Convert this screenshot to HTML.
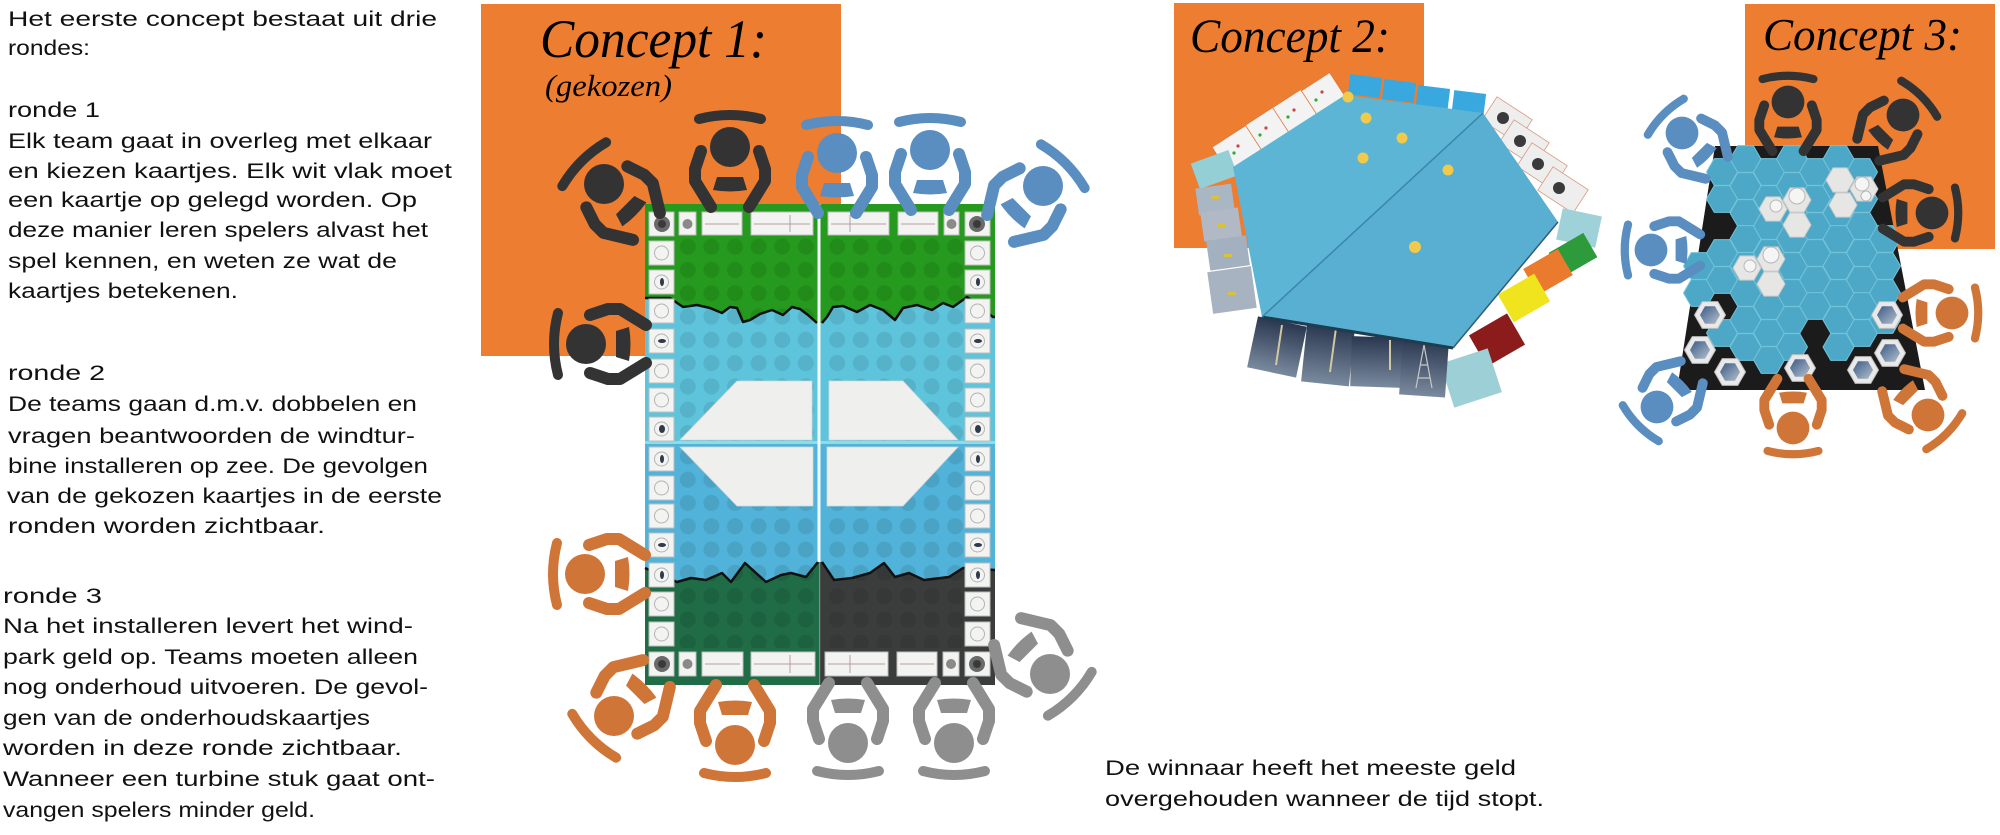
<!DOCTYPE html>
<html>
<head>
<meta charset="utf-8">
<style>
html,body{margin:0;padding:0;background:#fff;}
svg{display:block;}
.hw{font-family:"Liberation Sans",sans-serif;font-size:21px;fill:#111;}
.tt{font-family:"Liberation Serif",serif;font-style:italic;fill:#000;}
</style>
</head>
<body>
<svg width="2000" height="835" viewBox="0 0 2000 835" xmlns="http://www.w3.org/2000/svg">
<defs>
  <g id="P">
    <path d="M-19,-60 L-35,-34 L-35,-22 L-29,-4" fill="none" stroke="currentColor" stroke-width="12" stroke-linecap="round" stroke-linejoin="round"/>
    <path d="M19,-60 L35,-34 L35,-22 L29,-4" fill="none" stroke="currentColor" stroke-width="12" stroke-linecap="round" stroke-linejoin="round"/>
    <path d="M-17,-43 Q0,-46 17,-43 L13,-30 L-13,-30 Z" fill="currentColor"/>
    <circle r="20" fill="currentColor"/>
    <path d="M-31,28 Q0,36 31,28" fill="none" stroke="currentColor" stroke-width="10" stroke-linecap="round"/>
  </g>
  <pattern id="dotsL" x="676" y="235" width="23.6" height="23.3" patternUnits="userSpaceOnUse">
    <circle cx="11.8" cy="11.65" r="8" fill="#000" fill-opacity="0.09"/>
  </pattern>
  <pattern id="dotsR" x="825.4" y="235" width="23.6" height="23.3" patternUnits="userSpaceOnUse">
    <circle cx="11.8" cy="11.65" r="8" fill="#000" fill-opacity="0.09"/>
  </pattern>
  <polygon id="hx" points="15.5,0 7.75,13.4 -7.75,13.4 -15.5,0 -7.75,-13.4 7.75,-13.4"/>
  <polygon id="hw" points="14,0 7,12.1 -7,12.1 -14,0 -7,-12.1 7,-12.1"/>
  <polygon id="hi" points="10,0 5,8.7 -5,8.7 -10,0 -5,-8.7 5,-8.7"/>
  <linearGradient id="ph" x1="0" y1="0" x2="0" y2="1">
    <stop offset="0" stop-color="#2a3750"/>
    <stop offset="1" stop-color="#7a8a9e"/>
  </linearGradient>
  <linearGradient id="ph2" x1="0" y1="0" x2="1" y2="1">
    <stop offset="0" stop-color="#3b5a86"/>
    <stop offset="1" stop-color="#b3bfcc"/>
  </linearGradient>
</defs>

<!-- ORANGE BOXES -->
<rect x="481" y="4" width="360" height="352" fill="#ED7D31"/>
<rect x="1174" y="3" width="250" height="245" fill="#ED7D31"/>
<rect x="1745" y="4" width="250" height="245" fill="#ED7D31"/>

<!-- TITLES -->
<text class="tt" x="540" y="57" font-size="54" textLength="227" lengthAdjust="spacingAndGlyphs">Concept 1:</text>
<text class="tt" x="545" y="96" font-size="31" textLength="127" lengthAdjust="spacingAndGlyphs">(gekozen)</text>
<text class="tt" x="1190" y="52" font-size="48" textLength="200" lengthAdjust="spacingAndGlyphs">Concept 2:</text>
<text class="tt" x="1763" y="50" font-size="46" textLength="199" lengthAdjust="spacingAndGlyphs">Concept 3:</text>

<!-- LEFT TEXT -->
<g class="hw">
<text x="8" y="26" textLength="429" lengthAdjust="spacingAndGlyphs">Het eerste concept bestaat uit drie</text>
<text x="8" y="55" textLength="82" lengthAdjust="spacingAndGlyphs">rondes:</text>

<text x="8" y="117" textLength="92" lengthAdjust="spacingAndGlyphs">ronde 1</text>
<text x="8" y="148" textLength="424" lengthAdjust="spacingAndGlyphs">Elk team gaat in overleg met elkaar</text>
<text x="8" y="178" textLength="444" lengthAdjust="spacingAndGlyphs">en kiezen kaartjes. Elk wit vlak moet</text>
<text x="8" y="207" textLength="409" lengthAdjust="spacingAndGlyphs">een kaartje op gelegd worden. Op</text>
<text x="8" y="237" textLength="420" lengthAdjust="spacingAndGlyphs">deze manier leren spelers alvast het</text>
<text x="8" y="268" textLength="389" lengthAdjust="spacingAndGlyphs">spel kennen, en weten ze wat de</text>
<text x="8" y="298" textLength="230" lengthAdjust="spacingAndGlyphs">kaartjes betekenen.</text>

<text x="8" y="380" textLength="97" lengthAdjust="spacingAndGlyphs">ronde 2</text>
<text x="8" y="411" textLength="409" lengthAdjust="spacingAndGlyphs">De teams gaan d.m.v. dobbelen en</text>
<text x="8" y="443" textLength="407" lengthAdjust="spacingAndGlyphs">vragen beantwoorden de windtur-</text>
<text x="8" y="473" textLength="420" lengthAdjust="spacingAndGlyphs">bine installeren op zee. De gevolgen</text>
<text x="7" y="503" textLength="435" lengthAdjust="spacingAndGlyphs">van de gekozen kaartjes in de eerste</text>
<text x="8" y="533" textLength="317" lengthAdjust="spacingAndGlyphs">ronden worden zichtbaar.</text>

<text x="3" y="603" textLength="99" lengthAdjust="spacingAndGlyphs">ronde 3</text>
<text x="3" y="633" textLength="410" lengthAdjust="spacingAndGlyphs">Na het installeren levert het wind-</text>
<text x="3" y="664" textLength="415" lengthAdjust="spacingAndGlyphs">park geld op. Teams moeten alleen</text>
<text x="3" y="694" textLength="425" lengthAdjust="spacingAndGlyphs">nog onderhoud uitvoeren. De gevol-</text>
<text x="3" y="725" textLength="367" lengthAdjust="spacingAndGlyphs">gen van de onderhoudskaartjes</text>
<text x="3" y="755" textLength="399" lengthAdjust="spacingAndGlyphs">worden in deze ronde zichtbaar.</text>
<text x="3" y="786" textLength="432" lengthAdjust="spacingAndGlyphs">Wanneer een turbine stuk gaat ont-</text>
<text x="3" y="817" textLength="312" lengthAdjust="spacingAndGlyphs">vangen spelers minder geld.</text>

<text x="1105" y="775" textLength="411" lengthAdjust="spacingAndGlyphs">De winnaar heeft het meeste geld</text>
<text x="1105" y="806" textLength="439" lengthAdjust="spacingAndGlyphs">overgehouden wanneer de tijd stopt.</text>
</g>

<!-- ============ CONCEPT 1 BOARD ============ -->
<rect x="645" y="204" width="350" height="481" fill="#5ec4dc"/>
<rect x="645" y="443" width="350" height="140" fill="#51b3d9"/>
<path d="M645,204 H995 V317 L993,317 L967,297 L953,307 L943,303 L932,310 L917,305 L903,308 L895,320 L883,310 L870,305 L857,312 L843,306 L833,307 L827,317 L822,323 L817,323 L808,315 L800,309 L792,307 L783,315 L772,310 L760,314 L750,320 L743,322 L737,308 L730,307 L722,313 L710,308 L697,305 L683,307 L670,298 L645,298 Z" fill="#259a1e"/>
<path d="M645,568 L677,582 L691,578 L706,580 L722,573 L731,582 L745,563 L756,573 L766,582 L781,575 L791,573 L806,577 L818,562 L820,562 V685 H645 Z" fill="#1f6c46"/>
<path d="M820,562 L822,562 L834,580 L852,578 L870,573 L884,563 L895,577 L909,573 L924,580 L949,577 L963,568 L995,570 V685 H820 Z" fill="#3b3d3d"/>
<rect x="676" y="236" width="142" height="412" fill="url(#dotsL)"/>
<rect x="825" y="236" width="140" height="412" fill="url(#dotsR)"/>
<polyline points="645,298 670,298 683,307 697,305 710,308 722,313 730,307 737,308 743,322 750,320 760,314 772,310 783,315 792,307 800,309 808,315 817,323" fill="none" stroke="#111" stroke-width="2.5" stroke-linejoin="round"/>
<polyline points="822,323 827,317 833,307 843,306 857,312 870,305 883,310 895,320 903,308 917,305 932,310 943,303 953,307 967,297 993,317 995,317" fill="none" stroke="#111" stroke-width="2.5" stroke-linejoin="round"/>
<polyline points="645,568 677,582 691,578 706,580 722,573 731,582 745,563 756,573 766,582 781,575 791,573 806,577 818,562" fill="none" stroke="#111" stroke-width="2.5" stroke-linejoin="round"/>
<polyline points="822,562 834,580 852,578 870,573 884,563 895,577 909,573 924,580 949,577 963,568 995,570" fill="none" stroke="#111" stroke-width="2.5" stroke-linejoin="round"/>
<rect x="645" y="441" width="350" height="3" fill="#8fdce6"/>
<rect x="817.5" y="204" width="3" height="358" fill="#f4fbfc"/>
<rect x="819" y="562" width="1.2" height="123" fill="#8a8a8a"/>

<!-- white shapes -->
<g fill="#efefed" stroke="#d6d6d4" stroke-width="0.8">
<polygon points="737,381 812,381 812,440 680,440"/>
<polygon points="829,381 903,381 958,440 829,440"/>
<polygon points="680,447 813,447 813,506 737,506"/>
<polygon points="827,447 958,447 903,506 827,506"/>
</g>

<!-- cards -->
<g fill="#f3f3f1" stroke="#bdbdbd" stroke-width="1">
<rect x="649" y="212" width="25" height="24"/><rect x="649" y="241" width="25" height="24"/><rect x="649" y="270" width="25" height="24"/><rect x="649" y="299" width="25" height="24"/><rect x="649" y="329" width="25" height="24"/><rect x="649" y="359" width="25" height="24"/><rect x="649" y="388" width="25" height="24"/><rect x="649" y="417" width="25" height="24"/><rect x="649" y="447" width="25" height="24"/><rect x="649" y="476" width="25" height="24"/><rect x="649" y="504" width="25" height="24"/><rect x="649" y="533" width="25" height="24"/><rect x="649" y="563" width="25" height="24"/><rect x="649" y="592" width="25" height="24"/><rect x="649" y="622" width="25" height="24"/><rect x="649" y="652" width="25" height="24"/>
<rect x="965" y="212" width="25" height="24"/><rect x="965" y="241" width="25" height="24"/><rect x="965" y="270" width="25" height="24"/><rect x="965" y="299" width="25" height="24"/><rect x="965" y="329" width="25" height="24"/><rect x="965" y="359" width="25" height="24"/><rect x="965" y="388" width="25" height="24"/><rect x="965" y="417" width="25" height="24"/><rect x="965" y="447" width="25" height="24"/><rect x="965" y="476" width="25" height="24"/><rect x="965" y="504" width="25" height="24"/><rect x="965" y="533" width="25" height="24"/><rect x="965" y="563" width="25" height="24"/><rect x="965" y="592" width="25" height="24"/><rect x="965" y="622" width="25" height="24"/><rect x="965" y="652" width="25" height="24"/>
<rect x="679" y="212" width="17" height="23"/><rect x="702" y="212" width="40" height="23"/><rect x="751" y="212" width="62" height="23"/><rect x="828" y="212" width="61" height="23"/><rect x="898" y="212" width="40" height="23"/><rect x="944" y="212" width="15" height="23"/>
<rect x="679" y="652" width="17" height="24"/><rect x="702" y="652" width="41" height="24"/><rect x="751" y="652" width="64" height="24"/><rect x="825" y="652" width="63" height="24"/><rect x="897" y="652" width="40" height="24"/><rect x="943" y="652" width="16" height="24"/>
</g>
<g fill="none" stroke="#b3b3b3" stroke-width="1">
<circle cx="661.5" cy="253" r="7"/><circle cx="661.5" cy="282" r="7"/><circle cx="661.5" cy="311" r="7"/><circle cx="661.5" cy="341" r="7"/><circle cx="661.5" cy="371" r="7"/><circle cx="661.5" cy="400" r="7"/><circle cx="661.5" cy="429" r="7"/><circle cx="661.5" cy="459" r="7"/><circle cx="661.5" cy="488" r="7"/><circle cx="661.5" cy="516" r="7"/><circle cx="661.5" cy="545" r="7"/><circle cx="661.5" cy="575" r="7"/><circle cx="661.5" cy="604" r="7"/><circle cx="661.5" cy="634" r="7"/>
<circle cx="977.5" cy="253" r="7"/><circle cx="977.5" cy="282" r="7"/><circle cx="977.5" cy="311" r="7"/><circle cx="977.5" cy="341" r="7"/><circle cx="977.5" cy="371" r="7"/><circle cx="977.5" cy="400" r="7"/><circle cx="977.5" cy="429" r="7"/><circle cx="977.5" cy="459" r="7"/><circle cx="977.5" cy="488" r="7"/><circle cx="977.5" cy="516" r="7"/><circle cx="977.5" cy="545" r="7"/><circle cx="977.5" cy="575" r="7"/><circle cx="977.5" cy="604" r="7"/><circle cx="977.5" cy="634" r="7"/>
</g>
<g fill="#2f3a4a">
<ellipse cx="662" cy="341" rx="4" ry="2"/><ellipse cx="662" cy="429" rx="3" ry="4"/><ellipse cx="662" cy="545" rx="4" ry="2"/><ellipse cx="662" cy="282" rx="2" ry="4"/><ellipse cx="662" cy="459" rx="2" ry="4"/><ellipse cx="662" cy="575" rx="2" ry="4"/>
<ellipse cx="978" cy="341" rx="4" ry="2"/><ellipse cx="978" cy="429" rx="3" ry="4"/><ellipse cx="978" cy="545" rx="4" ry="2"/><ellipse cx="978" cy="282" rx="2" ry="4"/><ellipse cx="978" cy="459" rx="2" ry="4"/><ellipse cx="978" cy="575" rx="2" ry="4"/>
</g>
<g>
<circle cx="662" cy="224" r="8" fill="#6a6a6a"/><circle cx="662" cy="224" r="4" fill="#3a3a3a"/>
<circle cx="977" cy="224" r="8" fill="#6a6a6a"/><circle cx="977" cy="224" r="4" fill="#3a3a3a"/>
<circle cx="662" cy="664" r="8" fill="#6a6a6a"/><circle cx="662" cy="664" r="4" fill="#3a3a3a"/>
<circle cx="977" cy="664" r="8" fill="#6a6a6a"/><circle cx="977" cy="664" r="4" fill="#3a3a3a"/>
<circle cx="687.5" cy="224" r="5" fill="#8a8a8a"/><circle cx="951.5" cy="224" r="5" fill="#8a8a8a"/>
<circle cx="687.5" cy="664" r="5" fill="#8a8a8a"/><circle cx="951" cy="664" r="5" fill="#8a8a8a"/>
</g>
<g stroke="#b59e9e" stroke-width="1">
<line x1="705" y1="224" x2="739" y2="224"/><line x1="754" y1="224" x2="810" y2="224"/><line x1="831" y1="224" x2="886" y2="224"/><line x1="901" y1="224" x2="935" y2="224"/>
<line x1="705" y1="664" x2="740" y2="664"/><line x1="754" y1="664" x2="812" y2="664"/><line x1="828" y1="664" x2="885" y2="664"/><line x1="900" y1="664" x2="934" y2="664"/>
<line x1="790" y1="215" x2="790" y2="232"/><line x1="850" y1="215" x2="850" y2="232"/><line x1="790" y1="655" x2="790" y2="673"/><line x1="850" y1="655" x2="850" y2="673"/>
</g>

<!-- Concept 1 persons -->
<use href="#P" transform="translate(604,184) rotate(135)" style="color:#333333"/>
<use href="#P" transform="translate(730,147) rotate(180)" style="color:#333333"/>
<use href="#P" transform="translate(837,153) rotate(180)" style="color:#5a8dc0"/>
<use href="#P" transform="translate(930,150) rotate(180)" style="color:#5a8dc0"/>
<use href="#P" transform="translate(1043,186) rotate(-135)" style="color:#5a8dc0"/>
<use href="#P" transform="translate(586,344) rotate(90)" style="color:#333333"/>
<use href="#P" transform="translate(585,574) rotate(90)" style="color:#d07538"/>
<use href="#P" transform="translate(614,716) rotate(45)" style="color:#d07538"/>
<use href="#P" transform="translate(735,745) rotate(0)" style="color:#d07538"/>
<use href="#P" transform="translate(848,743) rotate(0)" style="color:#8e8e8e"/>
<use href="#P" transform="translate(954,743) rotate(0)" style="color:#8e8e8e"/>
<use href="#P" transform="translate(1050,674) rotate(-45)" style="color:#8e8e8e"/>

<!-- ============ CONCEPT 2 ============ -->
<g>
<rect x="-16" y="-10" width="32" height="20" fill="#39a8de" transform="translate(1365,86) rotate(7)"/>
<rect x="-16" y="-10" width="32" height="20" fill="#39a8de" transform="translate(1399,91) rotate(7)"/>
<rect x="-16" y="-10" width="32" height="20" fill="#39a8de" transform="translate(1433,97) rotate(7)"/>
<rect x="-16" y="-10" width="32" height="20" fill="#39a8de" transform="translate(1469,102) rotate(7)"/>

<g fill="#f3f3f3" stroke="#e07a3a" stroke-width="0.8">
<rect x="-20" y="-15" width="40" height="30" transform="translate(1321,96) rotate(-33)"/>
<rect x="-20" y="-15" width="40" height="30" transform="translate(1292,113) rotate(-33)"/>
<rect x="-20" y="-15" width="40" height="30" transform="translate(1264,131) rotate(-33)"/>
<rect x="-20" y="-15" width="40" height="30" transform="translate(1237,149) rotate(-33)"/>
</g>
<g fill="#c44">
<circle cx="1322" cy="92" r="1.6"/><circle cx="1294" cy="110" r="1.6"/><circle cx="1266" cy="128" r="1.6"/><circle cx="1238" cy="146" r="1.6"/>
</g>
<g fill="#3a3">
<circle cx="1316" cy="100" r="1.6"/><circle cx="1288" cy="117" r="1.6"/><circle cx="1260" cy="135" r="1.6"/><circle cx="1234" cy="153" r="1.6"/>
</g>
<rect x="-20" y="-13" width="40" height="27" fill="#94cfd6" transform="translate(1214,169) rotate(-20)"/>

<rect x="-18" y="-13" width="36" height="27" fill="#a9b6c3" transform="translate(1215,199) rotate(-8)"/>
<rect x="-19" y="-14" width="38" height="29" fill="#b0b9c4" transform="translate(1221,224) rotate(-8)"/>
<rect x="-20" y="-15" width="40" height="30" fill="#a3b0bf" transform="translate(1228,253) rotate(-8)"/>
<rect x="-22" y="-21" width="44" height="42" fill="#a7b3c1" transform="translate(1232,290) rotate(-8)"/>
<g fill="#d8c23a"><rect x="1211" y="196" width="8" height="3"/><rect x="1218" y="224" width="8" height="3"/><rect x="1224" y="254" width="8" height="3"/><rect x="1228" y="292" width="8" height="3"/></g>

<g fill="#eeeeee" stroke="#d99a80" stroke-width="0.8">
<rect x="-21" y="-14" width="42" height="28" transform="translate(1507,120) rotate(33)"/>
<rect x="-21" y="-14" width="42" height="28" transform="translate(1524,143) rotate(33)"/>
<rect x="-21" y="-14" width="42" height="28" transform="translate(1542,166) rotate(33)"/>
<rect x="-21" y="-14" width="42" height="28" transform="translate(1563,190) rotate(33)"/>
</g>
<g fill="#3a3a3a">
<circle cx="1503" cy="118" r="6"/><circle cx="1520" cy="141" r="6"/><circle cx="1538" cy="164" r="6"/><circle cx="1559" cy="188" r="6"/>
</g>

<rect x="-20" y="-16" width="40" height="32" fill="#9fd2d8" transform="translate(1579,228) rotate(12)"/>
<rect x="-20" y="-14" width="40" height="28" fill="#2d9a3c" transform="translate(1573,255) rotate(-30)"/>
<rect x="-20" y="-15" width="40" height="30" fill="#ea7a2e" transform="translate(1548,272) rotate(-30)"/>
<rect x="-21" y="-16" width="42" height="32" fill="#f0e41e" transform="translate(1524,298) rotate(-30)"/>
<rect x="-22" y="-18" width="44" height="36" fill="#8c1b1b" transform="translate(1497,340) rotate(-30)"/>
<rect x="-25" y="-23" width="50" height="46" fill="#9dcfd6" transform="translate(1471,378) rotate(-18)"/>

<rect x="-25" y="-26" width="50" height="52" fill="url(#ph)" transform="translate(1277,347) rotate(12)"/>
<rect x="-24" y="-29" width="48" height="58" fill="url(#ph)" transform="translate(1328,355) rotate(6)"/>
<rect x="-26" y="-25" width="52" height="50" fill="url(#ph)" transform="translate(1377,362) rotate(2)"/>
<rect x="-23" y="-28" width="46" height="56" fill="url(#ph)" transform="translate(1424,368) rotate(4)"/>
<g stroke="#d0c9a0" stroke-width="2"><line x1="1282" y1="325" x2="1276" y2="365"/><line x1="1336" y1="328" x2="1330" y2="372"/><line x1="1390" y1="340" x2="1390" y2="370"/></g>
<g stroke="#c8c8c8" stroke-width="1.2" fill="none"><path d="M1416,388 L1424,345 L1432,388 M1418,378 L1430,378 M1420,365 L1428,365"/></g>

<polygon points="1345,95 1483,113 1558,222 1453,348 1262,317 1233,167" fill="#5db5d5"/>
<polygon points="1483,113 1558,222 1453,348 1262,317" fill="#58afd1"/>
<line x1="1262" y1="317" x2="1453" y2="348" stroke="#1d3d50" stroke-width="3"/>
<line x1="1453" y1="348" x2="1558" y2="222" stroke="#2d5f78" stroke-width="1.5"/>
<line x1="1483" y1="113" x2="1262" y2="317" stroke="#3a86a8" stroke-width="1.5"/>
<g fill="#f1c94b">
<circle cx="1348" cy="97" r="5.5"/><circle cx="1366" cy="118" r="5.5"/><circle cx="1402" cy="138" r="5.5"/><circle cx="1363" cy="158" r="5.5"/><circle cx="1448" cy="170" r="5.5"/><circle cx="1415" cy="247" r="6"/>
</g>
</g>

<!-- ============ CONCEPT 3 ============ -->
<polygon points="1715,146 1878,146 1925,390 1677,390" fill="#1b1b1b"/>
<g fill="#4ca8c6" stroke="#72c3da" stroke-width="1">
<use href="#hx" x="1699" y="266"/><use href="#hx" x="1699" y="293"/>
<use href="#hx" x="1722" y="172"/><use href="#hx" x="1722" y="199"/><use href="#hx" x="1722" y="253"/><use href="#hx" x="1722" y="280"/><use href="#hx" x="1722" y="333"/>
<use href="#hx" x="1745.5" y="159"/><use href="#hx" x="1745.5" y="186"/><use href="#hx" x="1745.5" y="213"/><use href="#hx" x="1745.5" y="239"/><use href="#hx" x="1745.5" y="266"/><use href="#hx" x="1745.5" y="293"/><use href="#hx" x="1745.5" y="320"/><use href="#hx" x="1745.5" y="347"/>
<use href="#hx" x="1769" y="172"/><use href="#hx" x="1769" y="199"/><use href="#hx" x="1769" y="226"/><use href="#hx" x="1769" y="253"/><use href="#hx" x="1769" y="280"/><use href="#hx" x="1769" y="306"/><use href="#hx" x="1769" y="333"/><use href="#hx" x="1769" y="360"/>
<use href="#hx" x="1792" y="159"/><use href="#hx" x="1792" y="186"/><use href="#hx" x="1792" y="213"/><use href="#hx" x="1792" y="239"/><use href="#hx" x="1792" y="266"/><use href="#hx" x="1792" y="293"/><use href="#hx" x="1792" y="320"/><use href="#hx" x="1792" y="347"/>
<use href="#hx" x="1815" y="172"/><use href="#hx" x="1815" y="199"/><use href="#hx" x="1815" y="226"/><use href="#hx" x="1815" y="253"/><use href="#hx" x="1815" y="280"/><use href="#hx" x="1815" y="306"/>
<use href="#hx" x="1838.5" y="159"/><use href="#hx" x="1838.5" y="186"/><use href="#hx" x="1838.5" y="213"/><use href="#hx" x="1838.5" y="239"/><use href="#hx" x="1838.5" y="266"/><use href="#hx" x="1838.5" y="293"/><use href="#hx" x="1838.5" y="320"/><use href="#hx" x="1838.5" y="347"/>
<use href="#hx" x="1862" y="172"/><use href="#hx" x="1862" y="199"/><use href="#hx" x="1862" y="226"/><use href="#hx" x="1862" y="253"/><use href="#hx" x="1862" y="280"/><use href="#hx" x="1862" y="306"/><use href="#hx" x="1862" y="333"/>
<use href="#hx" x="1885" y="239"/><use href="#hx" x="1885" y="266"/><use href="#hx" x="1885" y="293"/><use href="#hx" x="1885" y="320"/>
</g>
<g fill="#e6e6e4" stroke="#c8c8c8" stroke-width="1">
<use href="#hw" x="1840" y="180"/><use href="#hw" x="1864" y="189"/><use href="#hw" x="1843" y="205"/>
<use href="#hw" x="1773" y="209"/><use href="#hw" x="1797" y="200"/><use href="#hw" x="1797" y="225"/>
<use href="#hw" x="1747" y="268"/><use href="#hw" x="1771" y="259"/><use href="#hw" x="1771" y="284"/>
</g>
<g fill="#f5f5f5" stroke="#b8b8b8" stroke-width="1">
<circle cx="1862" cy="184" r="7"/><circle cx="1797" cy="196" r="8"/><circle cx="1776" cy="206" r="6"/><circle cx="1771" cy="255" r="8"/><circle cx="1750" cy="266" r="6"/><circle cx="1866" cy="196" r="5"/>
</g>
<g fill="#e9e9e9" stroke="#bdbdbd" stroke-width="1">
<use href="#hx" x="1710" y="315"/><use href="#hx" x="1700" y="350"/><use href="#hx" x="1730" y="372"/><use href="#hx" x="1800" y="368"/><use href="#hx" x="1863" y="370"/><use href="#hx" x="1890" y="353"/><use href="#hx" x="1887" y="315"/>
</g>
<g fill="url(#ph2)">
<use href="#hi" x="1710" y="315"/><use href="#hi" x="1700" y="350"/><use href="#hi" x="1730" y="372"/><use href="#hi" x="1800" y="368"/><use href="#hi" x="1863" y="370"/><use href="#hi" x="1890" y="353"/><use href="#hi" x="1887" y="315"/>
</g>

<!-- Concept 3 persons -->
<use href="#P" transform="translate(1788,102) rotate(180) scale(0.82)" style="color:#333333"/>
<use href="#P" transform="translate(1903,115) rotate(-135) scale(0.82)" style="color:#333333"/>
<use href="#P" transform="translate(1932,213) rotate(-90) scale(0.82)" style="color:#333333"/>
<use href="#P" transform="translate(1952,313) rotate(-90) scale(0.82)" style="color:#d07538"/>
<use href="#P" transform="translate(1793,428) rotate(0) scale(0.82)" style="color:#d07538"/>
<use href="#P" transform="translate(1928,415) rotate(-45) scale(0.82)" style="color:#d07538"/>
<use href="#P" transform="translate(1682,133) rotate(135) scale(0.82)" style="color:#5a8dc0"/>
<use href="#P" transform="translate(1651,250) rotate(90) scale(0.82)" style="color:#5a8dc0"/>
<use href="#P" transform="translate(1657,407) rotate(45) scale(0.82)" style="color:#5a8dc0"/>
</svg>
</body>
</html>
